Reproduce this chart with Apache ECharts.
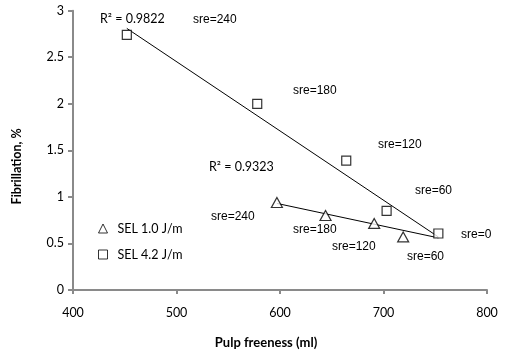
<!DOCTYPE html>
<html style='height: 100%'>
<head>
    <meta charset='utf-8'>
</head>
<body style='height: 100%; margin: 0; background: #fff'>
    <div id='container' style='width: 512px; height: 355px'></div>
    <script type='text/javascript' src='https://cdn.jsdelivr.net/npm/echarts@6/dist/echarts.min.js'></script>
    <script type="text/javascript">

// SEL 1.0 J/m (triangles) and SEL 4.2 J/m (squares)
var freeness10 = [597, 644, 691, 719];
var fibril10 = [0.94, 0.80, 0.715, 0.57];
var freeness42 = [452, 578, 664, 703, 753];
var fibril42 = [2.74, 2.0, 1.39, 0.85, 0.607];

// trendlines (ends)
var trendX10 = [597, 753];
var trendY10 = [0.93, 0.56];
var trendX42 = [452, 753];
var trendY42 = [2.81, 0.57];

var xTicks = [400, 500, 600, 700, 800];
var yTicks = [0, 0.5, 1, 1.5, 2, 2.5, 3];

function pairs(xs, ys) {
    return xs.map(function (x, i) { return [x, ys[i]]; });
}

var dom = document.getElementById("container");
var myChart = echarts.init(dom);

var axisGray = '#8a8a8a';
var tickFont = 'Lato';
var noteFont = 'Liberation Sans';

function note(text, left, top) {
    return {
        type: 'text', left: left, top: top,
        style: { text: text, font: '12px ' + noteFont, fill: '#000' }
    };
}
function rNote(text, left, top) {
    return {
        type: 'text', left: left, top: top,
        style: { text: text, font: '12.5px ' + tickFont, fill: '#000' }
    };
}

var option = {
    animation: false,
    backgroundColor: '#fff',
    grid: { left: 73, right: 25, top: 10.7, bottom: 65 },
    xAxis: {
        type: 'value',
        min: xTicks[0], max: xTicks[xTicks.length - 1], interval: 100,
        name: 'Pulp freeness (ml)',
        nameLocation: 'middle',
        nameGap: 46,
        nameTextStyle: { fontFamily: tickFont, fontWeight: 'bold', fontSize: 13, color: '#000', padding: [0, 28, 0, 0] },
        axisLine: { lineStyle: { color: axisGray, width: 2 } },
        axisTick: { show: true, length: 4, lineStyle: { color: axisGray, width: 2 } },
        axisLabel: { fontFamily: tickFont, fontSize: 12.5, color: '#000', margin: 16 },
        splitLine: { show: false }
    },
    yAxis: {
        type: 'value',
        min: yTicks[0], max: yTicks[yTicks.length - 1], interval: 0.5,
        name: 'Fibrillation, %',
        nameLocation: 'middle',
        nameGap: 50,
        nameTextStyle: { fontFamily: tickFont, fontWeight: 'bold', fontSize: 12.5, color: '#000', padding: [0, 32, 0, 0] },
        axisLine: { show: true, lineStyle: { color: axisGray, width: 2 } },
        axisTick: { show: true, length: 5, lineStyle: { color: axisGray, width: 2 } },
        axisLabel: { fontFamily: tickFont, fontSize: 12.5, color: '#000', margin: 9 },
        splitLine: { show: false }
    },
    legend: {
        orient: 'vertical',
        left: 93, top: 217,
        itemWidth: 9, itemHeight: 9,
        itemGap: 13,
        itemStyle: { color: '#fff', borderColor: '#000', borderWidth: 1 },
        textStyle: { fontFamily: tickFont, fontSize: 12.5, color: '#000', padding: [0, 0, 0, 5] },
        data: [
            { name: 'SEL 1.0 J/m', icon: 'triangle' },
            { name: 'SEL 4.2 J/m', icon: 'rect' }
        ]
    },
    graphic: [
        rNote('R\u00b2 = 0.9822', 100, 12),
        note('sre=240', 193, 14),
        note('sre=180', 293, 85),
        note('sre=120', 378, 139),
        note('sre=60', 415, 185),
        note('sre=0', 461, 229),
        rNote('R\u00b2 = 0.9323', 209, 160),
        note('sre=240', 211, 211),
        note('sre=180', 293, 224),
        note('sre=120', 332, 241),
        note('sre=60', 407, 251)
    ],
    series: [
        {
            type: 'line', data: pairs(trendX42, trendY42), symbol: 'none', silent: true,
            lineStyle: { color: '#000', width: 1 }, z: 1
        },
        {
            type: 'line', data: pairs(trendX10, trendY10), symbol: 'none', silent: true,
            lineStyle: { color: '#000', width: 1 }, z: 1
        },
        {
            name: 'SEL 1.0 J/m', type: 'scatter', data: pairs(freeness10, fibril10),
            symbol: 'triangle', symbolSize: [11, 10],
            itemStyle: { color: '#fff', borderColor: '#000', borderWidth: 1.2 }, z: 3
        },
        {
            name: 'SEL 4.2 J/m', type: 'scatter', data: pairs(freeness42, fibril42),
            symbol: 'rect', symbolSize: 9,
            itemStyle: { color: '#fff', borderColor: '#000', borderWidth: 1.2 }, z: 3
        }
    ]
};

myChart.setOption(option, true);
       </script>
   </body>
</html>
